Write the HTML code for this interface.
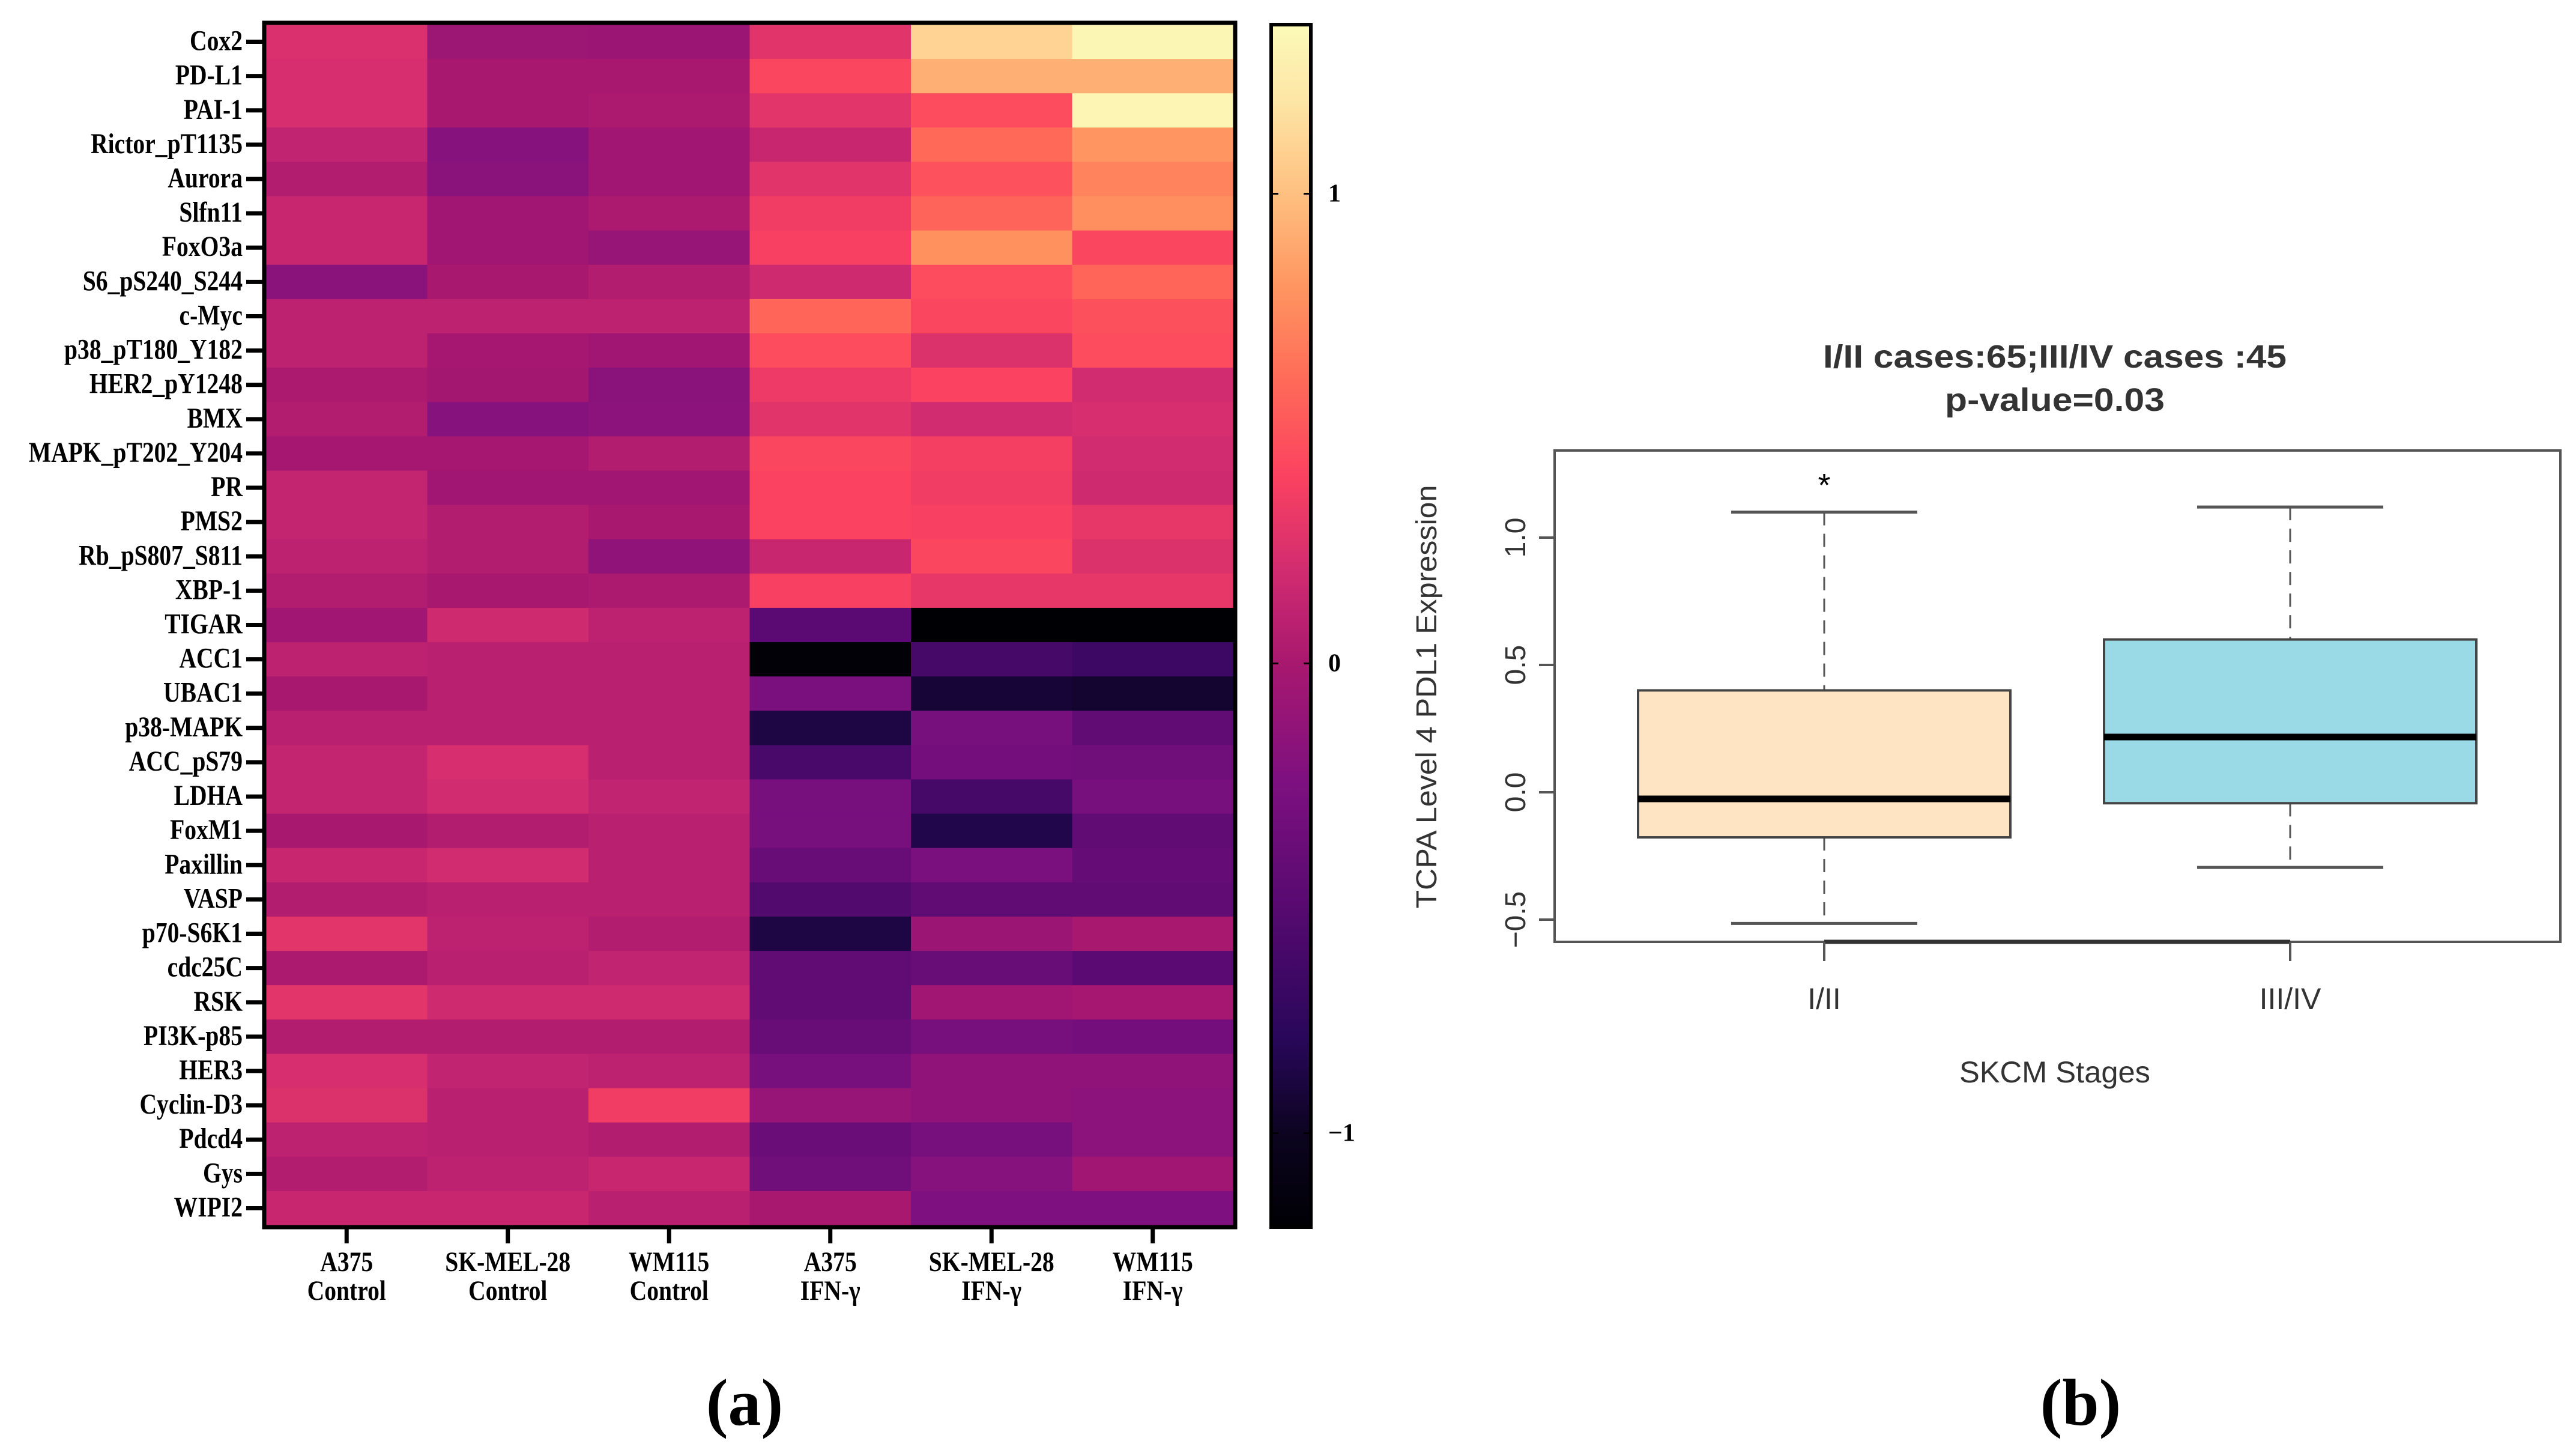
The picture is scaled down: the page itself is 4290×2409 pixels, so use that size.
<!DOCTYPE html>
<html><head><meta charset="utf-8"><style>
html,body{margin:0;padding:0;background:#fff;}
svg{display:block;}
.rl{font-family:"Liberation Serif",serif;font-weight:bold;}
.ss{font-family:"Liberation Sans",sans-serif;}
</style></head><body>
<svg id="fig" width="4290" height="2409" viewBox="0 0 4290 2409" xmlns="http://www.w3.org/2000/svg">
<defs>
<linearGradient id="magma" x1="0" y1="1" x2="0" y2="0"></linearGradient>
</defs>
<g id="heat"></g>
<g id="cbar"></g>
<g id="box"></g>
<text x="1240" y="2372" text-anchor="middle" class="rl" font-size="110">(a)</text>
<text x="3465" y="2372" text-anchor="middle" class="rl" font-size="110">(b)</text>
</svg>
<script>
// ---------- Heatmap data ----------
const rowLabels = ["Cox2","PD-L1","PAI-1","Rictor_pT1135","Aurora","Slfn11","FoxO3a","S6_pS240_S244","c-Myc","p38_pT180_Y182","HER2_pY1248","BMX","MAPK_pT202_Y204","PR","PMS2","Rb_pS807_S811","XBP-1","TIGAR","ACC1","UBAC1","p38-MAPK","ACC_pS79","LDHA","FoxM1","Paxillin","VASP","p70-S6K1","cdc25C","RSK","PI3K-p85","HER3","Cyclin-D3","Pdcd4","Gys","WIPI2"];
const colLine1 = ["A375","SK-MEL-28","WM115","A375","SK-MEL-28","WM115"];
const colLine2 = ["Control","Control","Control","IFN-γ","IFN-γ","IFN-γ"];
const colA375C = [0.24,0.22,0.22,0.12,0.05,0.15,0.15,-0.18,0.1,0.1,0.02,0.05,-0.02,0.13,0.13,0.1,0.05,-0.05,0.1,0.0,0.08,0.13,0.13,0.0,0.15,0.05,0.28,0.02,0.28,0.05,0.22,0.25,0.1,0.05,0.15];
const colSKC   = [-0.07,0.0,0.0,-0.2,-0.18,-0.05,-0.05,0.0,0.1,-0.02,-0.03,-0.2,-0.02,-0.05,0.05,0.05,0.0,0.18,0.08,0.08,0.08,0.22,0.2,0.05,0.2,0.08,0.1,0.08,0.18,0.05,0.12,0.08,0.08,0.1,0.15];
const colWMC   = [-0.08,0.0,0.02,-0.05,-0.05,0.02,-0.1,0.05,0.1,-0.05,-0.18,-0.17,0.05,-0.05,0.0,-0.15,0.02,0.1,0.08,0.08,0.08,0.08,0.12,0.08,0.08,0.08,0.05,0.12,0.18,0.05,0.1,0.35,0.05,0.15,0.08];
const colA375I = [0.27,0.42,0.28,0.15,0.27,0.35,0.38,0.18,0.58,0.45,0.33,0.27,0.42,0.4,0.4,0.15,0.38,-0.5,-1.17,-0.28,-0.88,-0.6,-0.3,-0.3,-0.4,-0.55,-0.88,-0.45,-0.45,-0.4,-0.3,-0.1,-0.38,-0.35,0.0];
const colSKI   = [1.1,0.92,0.45,0.6,0.48,0.57,0.78,0.45,0.42,0.25,0.4,0.2,0.37,0.35,0.38,0.42,0.3,-1.24,-0.62,-0.92,-0.3,-0.32,-0.62,-0.85,-0.28,-0.45,-0.08,-0.4,-0.05,-0.3,-0.15,-0.15,-0.3,-0.2,-0.25];
const colWMI   = [1.33,0.92,1.32,0.8,0.72,0.77,0.42,0.58,0.47,0.45,0.2,0.22,0.2,0.18,0.3,0.25,0.3,-1.24,-0.68,-0.95,-0.45,-0.35,-0.3,-0.45,-0.42,-0.45,0.0,-0.5,-0.02,-0.32,-0.15,-0.17,-0.17,-0.05,-0.25];
const heatCols = [colA375C,colSKC,colWMC,colA375I,colSKI,colWMI];
const cbarTicks = [1,0,-1];
const cbarTickLabels = ["1","0","\u22121"];

// ---------- Box plot data ----------
const boxGroups = ["I/II","III/IV"];
const boxQ1 = [-0.177,-0.043];
const boxMed = [-0.026,0.217];
const boxQ3 = [0.40,0.60];
const boxLo = [-0.515,-0.295];
const boxHi = [1.10,1.12];
const boxFill = ["#FFE4C4","#9AD9E6"];
const yTicks = [-0.5,0.0,0.5,1.0];
const yTickLabels = ["\u22120.5","0.0","0.5","1.0"];

const NS="http://www.w3.org/2000/svg";
function mk(tag,attrs,parent){const e=document.createElementNS(NS,tag);for(const k in attrs)e.setAttribute(k,attrs[k]);if(parent)parent.appendChild(e);return e;}

const VMIN=-1.2,VMAX=1.36;
const cmapVals=[-1.2,-1.0,-0.8,-0.5,-0.25,0.0,0.2,0.4,0.6,0.8,1.0,1.2,1.36];
const cmapCols=["#000004","#0c0420","#28075a","#5a0a72","#7e1080","#a8186f","#d22c70","#fb4260","#ff6a58","#ff9560","#fec080","#fde6a6","#fcfab8"];
function hx(c){return [parseInt(c.substr(1,2),16),parseInt(c.substr(3,2),16),parseInt(c.substr(5,2),16)];}
function colorOf(v){
  v=Math.max(VMIN,Math.min(VMAX,v));
  for(let i=1;i<cmapVals.length;i++){if(v<=cmapVals[i]){const f=(v-cmapVals[i-1])/(cmapVals[i]-cmapVals[i-1]);const A=hx(cmapCols[i-1]),B=hx(cmapCols[i]);return "rgb("+A.map((a,j)=>Math.round(a+(B[j]-a)*f)).join(",")+")";}}
  return cmapCols[cmapCols.length-1];
}

// ---------- draw heatmap ----------
const heat=document.getElementById('heat');
const HX0=443,HX1=2054,HY0=41,HY1=2040;
const nR=rowLabels.length,nC=heatCols.length;
const cw=(HX1-HX0)/nC,rh=(HY1-HY0)/nR;
const xCol=i=>HX0+i*cw, yRow=j=>HY0+j*rh;
for(let c=0;c<nC;c++){for(let r=0;r<nR;r++){
  const cell=mk('rect',{x:xCol(c),y:yRow(r),width:cw+0.6,height:rh+0.6,fill:colorOf(heatCols[c][r])},heat);
  
  
}}
const hb=mk('rect',{x:HX0-3,y:HY0-3,width:HX1-HX0+6,height:HY1-HY0+6,fill:'none',stroke:'#000','stroke-width':7},heat);


for(let r=0;r<nR;r++){
  const yc=yRow(r)+rh/2;
  mk('line',{x1:410,x2:438,y1:yc,y2:yc,stroke:'#000','stroke-width':7},heat);
  const t=mk('text',{transform:`translate(404,${yc+14}) scale(0.88,1.05)`,'text-anchor':'end','font-size':45,class:'rl'},heat);
  t.textContent=rowLabels[r];
  
  
}
for(let c=0;c<nC;c++){
  const xc=xCol(c)+cw/2;
  mk('line',{x1:xc,x2:xc,y1:HY1+3,y2:HY1+30,stroke:'#000','stroke-width':7},heat);
  const t1=mk('text',{transform:`translate(${xc},2116) scale(0.9,1.05)`,'text-anchor':'middle','font-size':44,class:'rl'},heat);
  t1.textContent=colLine1[c];
  
  
  const t2=mk('text',{transform:`translate(${xc},2164) scale(0.9,1.05)`,'text-anchor':'middle','font-size':44,class:'rl'},heat);
  t2.textContent=colLine2[c];
  
  
}

// ---------- colorbar ----------
const grad=document.getElementById('magma');
cmapVals.forEach((v,i)=>mk('stop',{offset:(v-VMIN)/(VMAX-VMIN),'stop-color':cmapCols[i]},grad));
const cb=document.getElementById('cbar');
const CX0=2117,CX1=2183,CY0=41,CY1=2043;
const cbY=v=>CY1-(v-VMIN)/(VMAX-VMIN)*(CY1-CY0);
mk('rect',{x:CX0,y:CY0,width:CX1-CX0,height:CY1-CY0,fill:'url(#magma)',stroke:'#000','stroke-width':6},cb);
cbarTicks.forEach((v,i)=>{
  const y=cbY(v);
  mk('line',{x1:CX0,x2:CX0+12,y1:y,y2:y,stroke:'#000','stroke-width':3},cb);
  mk('line',{x1:CX1-12,x2:CX1,y1:y,y2:y,stroke:'#000','stroke-width':3},cb);
  const t=mk('text',{x:2212,y:y+13,'font-size':42,class:'rl','font-weight':'normal'},cb);
  t.textContent=cbarTickLabels[i];
  
  
});

// ---------- box plot ----------
const bx=document.getElementById('box');
const PX0=2589,PX1=4264,PY0=750,PY1=1568;
const yv=v=>1319-424*v;
const gx=[3038,3814];
const halfW=310;
mk('rect',{x:PX0,y:PY0,width:PX1-PX0,height:PY1-PY0,fill:'none',stroke:'#555','stroke-width':4},bx);
yTicks.forEach((v,i)=>{
  const y=yv(v);
  mk('line',{x1:PX0-26,x2:PX0,y1:y,y2:y,stroke:'#555','stroke-width':4},bx);
  const t=mk('text',{transform:`translate(2540,${y}) rotate(-90)`,'text-anchor':'middle','font-size':48,class:'ss',fill:'#333'},bx);
  t.textContent=yTickLabels[i];
  
  
});
mk('line',{x1:gx[0],x2:gx[1],y1:PY1,y2:PY1,stroke:'#333','stroke-width':7},bx);
boxGroups.forEach((g,i)=>{
  const x=gx[i];
  mk('line',{x1:x,x2:x,y1:PY1,y2:PY1+32,stroke:'#555','stroke-width':4},bx);
  const gl=mk('text',{x:x,y:1680,'text-anchor':'middle','font-size':50,class:'ss',fill:'#333'},bx);
  gl.textContent=g;
  
  
  mk('line',{x1:x,x2:x,y1:yv(boxHi[i]),y2:yv(boxQ3[i]),stroke:'#555','stroke-width':3,'stroke-dasharray':'22,14'},bx);
  mk('line',{x1:x,x2:x,y1:yv(boxQ1[i]),y2:yv(boxLo[i]),stroke:'#555','stroke-width':3,'stroke-dasharray':'22,14'},bx);
  mk('line',{x1:x-halfW/2,x2:x+halfW/2,y1:yv(boxHi[i]),y2:yv(boxHi[i]),stroke:'#555','stroke-width':5},bx);
  mk('line',{x1:x-halfW/2,x2:x+halfW/2,y1:yv(boxLo[i]),y2:yv(boxLo[i]),stroke:'#555','stroke-width':5},bx);
  const r=mk('rect',{x:x-halfW,y:yv(boxQ3[i]),width:2*halfW,height:yv(boxQ1[i])-yv(boxQ3[i]),fill:boxFill[i],stroke:'#444','stroke-width':4},bx);
  
  
  mk('line',{x1:x-halfW,x2:x+halfW,y1:yv(boxMed[i]),y2:yv(boxMed[i]),stroke:'#000','stroke-width':11},bx);
});
</script>
<svg style="position:absolute;left:0;top:0" width="4290" height="2409">
<text x="3038" y="826" text-anchor="middle" font-family="Liberation Sans, sans-serif" font-size="54">*</text>
<text x="3422" y="612" text-anchor="middle" font-family="Liberation Sans, sans-serif" font-weight="bold" font-size="54" fill="#333" textLength="772" lengthAdjust="spacingAndGlyphs">I/II cases:65;III/IV cases :45</text>
<text x="3422" y="684" text-anchor="middle" font-family="Liberation Sans, sans-serif" font-weight="bold" font-size="54" fill="#333" textLength="366" lengthAdjust="spacingAndGlyphs">p-value=0.03</text>
<text transform="translate(2392,1160) rotate(-90)" text-anchor="middle" font-family="Liberation Sans, sans-serif" font-size="48" fill="#333" textLength="705" lengthAdjust="spacingAndGlyphs">TCPA Level 4 PDL1 Expression</text>
<text x="3422" y="1802" text-anchor="middle" font-family="Liberation Sans, sans-serif" font-size="50" fill="#333" textLength="318" lengthAdjust="spacingAndGlyphs">SKCM Stages</text>
</svg>
</body></html>
